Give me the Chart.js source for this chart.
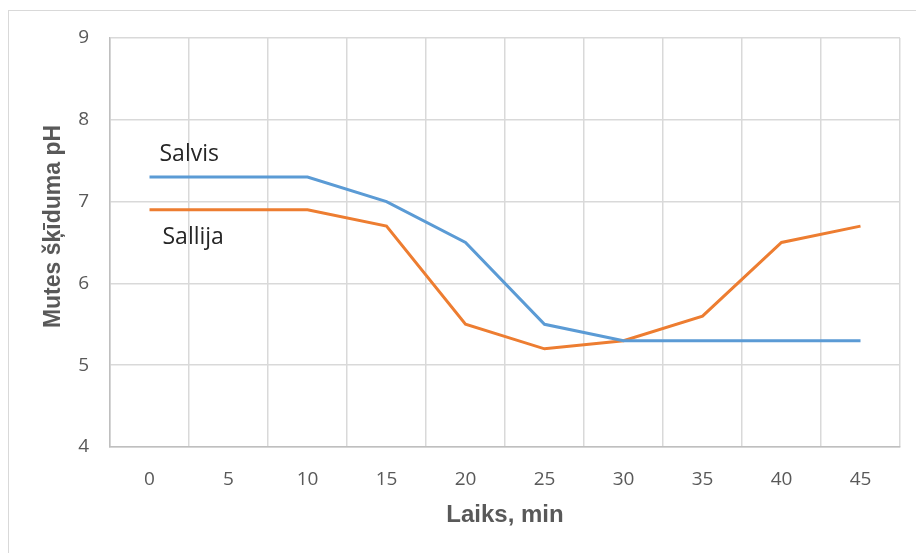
<!DOCTYPE html>
<html>
<head>
<meta charset="utf-8">
<script src="https://cdn.jsdelivr.net/npm/chart.js@4.4.1/dist/chart.umd.min.js"></script>
<style>
  html, body { margin: 0; padding: 0; background: #fff; overflow: hidden; }
  #frame { position: absolute; left: 8px; top: 10px; width: 1000px; height: 1000px; border: 1.5px solid #d9d9d9; }
  #wrap { position: absolute; left: 0; top: 0; width: 916px; height: 553px; }
</style>
</head>
<body>
<div id="frame"></div>
<div id="wrap"><canvas id="phChart"></canvas></div>
<script>
var laiks = ['0', '5', '10', '15', '20', '25', '30', '35', '40', '45'];
var salvis = [7.3, 7.3, 7.3, 7.0, 6.5, 5.5, 5.3, 5.3, 5.3, 5.3];
var sallija = [6.9, 6.9, 6.9, 6.7, 5.5, 5.2, 5.3, 5.6, 6.5, 6.7];
var yTicks = [4, 5, 6, 7, 8, 9];

// text labels next to the lines + rotated y title
var labelsPlugin = {
  id: 'labelsPlugin',
  afterDatasetsDraw: function (chart) {
    var ctx = chart.ctx;
    var x = chart.scales.x;
    var y = chart.scales.y;
    ctx.save();
    ctx.fillStyle = '#262626';
    ctx.font = '23px "Open Sans"';
    ctx.textAlign = 'left';
    ctx.textBaseline = 'middle';
    ctx.fillText('Salvis', x.getPixelForValue(0) + 10, y.getPixelForValue(salvis[0] + 0.28));
    ctx.fillText('Sallija', x.getPixelForValue(0) + 13, y.getPixelForValue(sallija[0] - 0.34));

    ctx.translate(54, y.getPixelForValue(6.5) - 16);
    ctx.rotate(-Math.PI / 2);
    ctx.textAlign = 'center';
    ctx.fillStyle = '#595959';
    ctx.font = 'bold 23px "Liberation Sans"';
    ctx.fillText('Mutes šķīduma pH', 0, 0);
    ctx.restore();
  },
};

var ctx = document.getElementById('phChart');
var phChart = new Chart(ctx, {
  type: 'line',
  data: {
    labels: laiks,
    datasets: [
      {
        label: 'Salvis',
        data: salvis,
        borderColor: '#5B9BD5',
        backgroundColor: '#5B9BD5',
        borderWidth: 3,
        pointRadius: 0,
        tension: 0,
      },
      {
        label: 'Sallija',
        data: sallija,
        borderColor: '#ED7D31',
        backgroundColor: '#ED7D31',
        borderWidth: 3,
        pointRadius: 0,
        tension: 0,
      },
    ],
  },
  options: {
    responsive: true,
    maintainAspectRatio: false,
    animation: false,
    layout: {
      padding: { left: 0, top: 38, right: 16, bottom: 0 },
    },
    plugins: {
      legend: { display: false },
      tooltip: { enabled: false },
    },
    scales: {
      x: {
        offset: true,
        grid: { offset: true, color: '#d9d9d9', lineWidth: 1.5, drawTicks: false },
        border: { color: '#bfbfbf', width: 1.5 },
        ticks: {
          color: '#595959',
          padding: 21,
          font: { family: 'Open Sans', size: 19 },
        },
        title: {
          display: true,
          text: 'Laiks, min',
          color: '#595959',
          font: { family: 'Liberation Sans', size: 24, weight: 'bold' },
          padding: { top: 0, bottom: 23 },
        },
        afterFit: function (scale) {
          scale.height = 106;
        },
      },
      y: {
        min: 4,
        max: 9,
        grid: { color: '#d9d9d9', lineWidth: 1.5, drawTicks: false },
        border: { color: '#bfbfbf', width: 1.5 },
        afterBuildTicks: function (scale) {
          scale.ticks = yTicks.map(function (v) { return { value: v }; });
        },
        ticks: {
          color: '#595959',
          padding: 21,
          font: { family: 'Open Sans', size: 19 },
        },
        afterFit: function (scale) {
          scale.width = 110;
        },
      },
    },
  },
  plugins: [labelsPlugin],
});
</script>
</body>
</html>
